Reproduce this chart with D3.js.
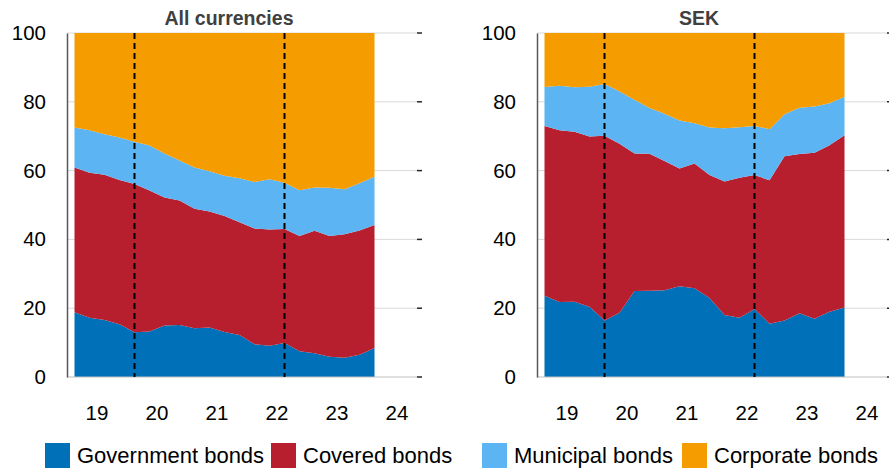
<!DOCTYPE html>
<html>
<head>
<meta charset="utf-8">
<script src="https://cdn.jsdelivr.net/npm/d3@7"></script>
<style>
  html, body { margin: 0; padding: 0; background: #fff; }
  svg { display: block; font-family: "Liberation Sans", Arial, sans-serif; }
</style>
</head>
<body>
<svg id="chart" width="889" height="471"></svg>
<script>
// ---------------- DATA ----------------
const quarters = ["2019Q1","2019Q2","2019Q3","2019Q4","2020Q1","2020Q2","2020Q3","2020Q4",
                  "2021Q1","2021Q2","2021Q3","2021Q4","2022Q1","2022Q2","2022Q3","2022Q4",
                  "2023Q1","2023Q2","2023Q3","2023Q4","2024Q1"];
const seriesNames = ["Government bonds", "Covered bonds", "Municipal bonds", "Corporate bonds"];
const panelTitles = ["All currencies", "SEK"];

// All currencies (per cent of holdings)
const allGov       = [18.8,17.2,16.6,15.3,13.0,13.2,15.0,15.1,14.2,14.4,13.1,12.2, 9.5, 9.1, 9.9, 7.5, 6.9, 5.9, 5.6, 6.5, 8.4];
const allCovered   = [42.1,42.2,42.2,42.0,43.1,41.0,37.2,36.2,34.7,33.7,33.7,32.8,33.7,33.8,33.1,33.5,35.6,35.1,35.9,36.1,35.8];
const allMunicipal = [11.6,12.3,11.8,12.3,12.3,13.1,12.8,11.6,12.0,11.7,11.7,12.8,13.5,14.6,13.5,13.3,12.6,14.0,13.1,13.7,14.0];
const allCorporate = [27.5,28.3,29.4,30.4,31.6,32.7,35.0,37.1,39.1,40.2,41.5,42.2,43.3,42.5,43.5,45.7,44.9,45.0,45.4,43.7,41.8];

// SEK
const sekGov       = [23.6,21.8,21.9,20.4,16.4,18.7,25.0,25.1,25.2,26.4,25.8,23.0,18.0,17.2,19.8,15.5,16.4,18.5,16.9,19.0,20.2];
const sekCovered   = [49.4,49.9,49.4,49.5,53.7,49.1,40.0,39.8,37.6,34.2,36.3,35.7,38.8,40.7,38.9,41.7,47.8,46.3,48.3,48.4,50.1];
const sekMunicipal = [11.3,13.0,12.9,14.5,15.1,15.2,15.6,13.3,13.7,14.0,11.7,13.8,15.5,14.7,14.3,14.8,12.2,13.5,13.4,12.2,11.2];
const sekCorporate = [15.7,15.3,15.8,15.6,14.8,17.0,19.4,21.8,23.5,25.4,26.2,27.5,27.7,27.4,27.0,28.0,23.6,21.7,21.4,20.4,18.5];

const yTicks = [0, 20, 40, 60, 80, 100];
const xTickYears = [2019, 2020, 2021, 2022, 2023, 2024];
const eventQuarters = ["2020Q1", "2022Q3"];

// ---------------- STYLE ----------------
const colors = ["#0070b8", "#b81f2e", "#5db4f2", "#f59c00"];
const legendX = [45, 271, 482, 682];
const svg = d3.select("#chart");

function qToYear(q) {
  const yr = +q.slice(0, 4), qq = +q.slice(5);
  return yr + (qq - 1) * 0.25 + 0.125;
}

const y = d3.scaleLinear().domain([0, 100]).range([377, 33]);

function drawPanel(x0, x1, titleX, title, series) {
  const x = d3.scaleLinear().domain([2019, 2024 + 10 / 12]).range([x0, x1]);
  const g = svg.append("g");

  // gridlines
  g.selectAll("line.grid").data(yTicks.filter(d => d > 0)).join("line")
    .attr("x1", x0).attr("x2", x1)
    .attr("y1", d => y(d)).attr("y2", d => y(d))
    .attr("stroke", "#d9d9d9").attr("stroke-width", 1);

  // stacked areas
  const rows = quarters.map((q, i) => {
    const r = { t: qToYear(q) };
    seriesNames.forEach((s, k) => r[s] = series[k][i]);
    return r;
  });
  const stacked = d3.stack().keys(seriesNames)(rows);
  const area = d3.area()
    .x(d => x(d.data.t))
    .y0(d => y(d[0]))
    .y1(d => y(Math.min(100, d[1])));
  g.selectAll("path.area").data(stacked).join("path")
    .attr("d", area)
    .attr("fill", (d, i) => colors[i]);

  // x baseline
  g.append("line").attr("x1", x0).attr("x2", x1)
    .attr("y1", y(0)).attr("y2", y(0))
    .attr("stroke", "#bfbfbf").attr("stroke-width", 1);

  // right-side tick marks
  g.selectAll("line.rt").data(yTicks).join("line")
    .attr("x1", x1).attr("x2", x1 + 5)
    .attr("y1", d => y(d)).attr("y2", d => y(d))
    .attr("stroke", "#262626").attr("stroke-width", 1.5);

  // left axis
  const yAxis = d3.axisLeft(y).tickValues(yTicks).tickSize(0).tickPadding(21);
  const ya = g.append("g").attr("transform", `translate(${x0},0)`).call(yAxis);
  ya.select(".domain").attr("stroke", "#595959").attr("stroke-width", 1.5);
  ya.selectAll("text").attr("font-size", 20.5).attr("fill", "#000")
    .attr("font-family", "Liberation Sans, Arial, sans-serif");

  // x tick labels (centered on each year)
  g.selectAll("text.xl").data(xTickYears).join("text")
    .attr("x", d => x(d + 0.5)).attr("y", 420)
    .attr("text-anchor", "middle")
    .attr("font-size", 20.5).attr("fill", "#000")
    .text(d => String(d).slice(2));

  // event dashed lines
  g.selectAll("line.ev").data(eventQuarters).join("line")
    .attr("x1", d => x(qToYear(d))).attr("x2", d => x(qToYear(d)))
    .attr("y1", y(100)).attr("y2", y(0))
    .attr("stroke", "#000").attr("stroke-width", 2)
    .attr("stroke-dasharray", "6,4");

  // title
  g.append("text").attr("x", titleX).attr("y", 25)
    .attr("text-anchor", "middle")
    .attr("font-size", 19.5).attr("font-weight", "bold").attr("fill", "#404040")
    .text(title);
}

drawPanel(67, 417, 229, panelTitles[0], [allGov, allCovered, allMunicipal, allCorporate]);
drawPanel(537, 887, 699, panelTitles[1], [sekGov, sekCovered, sekMunicipal, sekCorporate]);

// ---------------- LEGEND ----------------
const leg = svg.append("g");
seriesNames.forEach((name, i) => {
  const it = leg.append("g").attr("transform", `translate(${legendX[i]},0)`);
  it.append("rect").attr("x", 0).attr("y", 443).attr("width", 25).attr("height", 25)
    .attr("fill", colors[i]);
  it.append("text").attr("x", 32).attr("y", 463)
    .attr("font-size", 22).attr("fill", "#000").text(name);
});
</script>
</body>
</html>
